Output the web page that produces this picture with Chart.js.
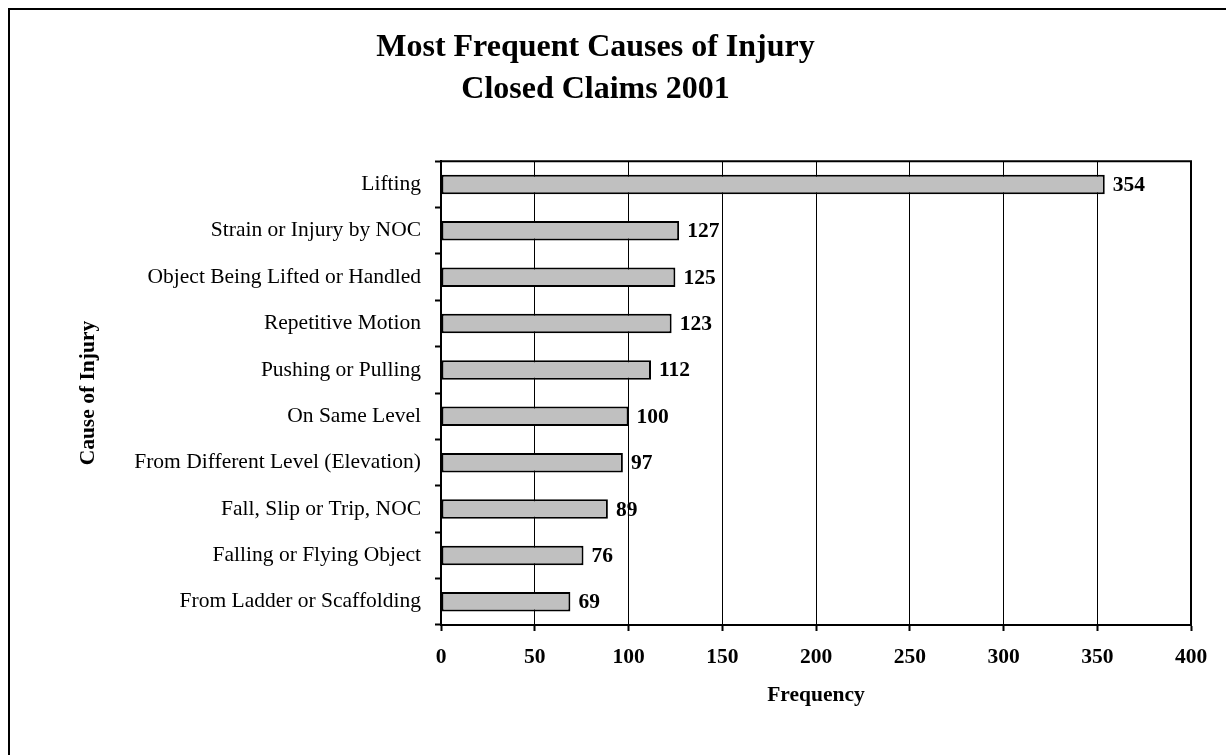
<!DOCTYPE html>
<html>
<head>
<meta charset="utf-8">
<script src="https://cdn.jsdelivr.net/npm/chart.js@4"></script>
<style>
  html, body { margin: 0; padding: 0; background: #fff; overflow: hidden; }
  #wrap { width: 1226px; height: 755px; position: relative; }
</style>
</head>
<body>
<div id="wrap"><canvas id="chart" width="1226" height="755"></canvas></div>
<script>
// Injury causes, closed claims 2001
const causes = [
  'Lifting',
  'Strain or Injury by NOC',
  'Object Being Lifted or Handled',
  'Repetitive Motion',
  'Pushing or Pulling',
  'On Same Level',
  'From Different Level (Elevation)',
  'Fall, Slip or Trip, NOC',
  'Falling or Flying Object',
  'From Ladder or Scaffolding'
];
const frequency = [354, 127, 125, 123, 112, 100, 97, 89, 76, 69];
const titleLines = ['Most Frequent Causes of Injury', 'Closed Claims 2001'];
const xTitle = 'Frequency';
const yTitle = 'Cause of Injury';

const SERIF = '"Liberation Serif", "Times New Roman", Times, serif';

// White page with an outer frame
const framePlugin = {
  id: 'frame',
  beforeDraw(chart) {
    const ctx = chart.ctx;
    ctx.save();
    ctx.fillStyle = '#ffffff';
    ctx.fillRect(0, 0, chart.width, chart.height);
    ctx.strokeStyle = '#000';
    ctx.lineWidth = 2;
    ctx.strokeRect(9, 9, chart.width + 40, chart.height + 40);
    ctx.restore();
  }
};

// Top and right edges of the plot area
const plotBoxPlugin = {
  id: 'plotBox',
  afterDraw(chart) {
    const {ctx, chartArea: a} = chart;
    ctx.save();
    ctx.strokeStyle = '#000';
    ctx.lineWidth = 2;
    ctx.beginPath();
    ctx.moveTo(a.left, a.top);
    ctx.lineTo(a.right, a.top);
    ctx.lineTo(a.right, a.bottom);
    ctx.stroke();
    ctx.restore();
  }
};

// Value labels at the end of each bar
const valueLabelPlugin = {
  id: 'valueLabels',
  afterDatasetsDraw(chart) {
    const ctx = chart.ctx;
    const meta = chart.getDatasetMeta(0);
    const data = chart.data.datasets[0].data;
    ctx.save();
    ctx.font = 'bold 21.5px ' + SERIF;
    ctx.fillStyle = '#000';
    ctx.textAlign = 'left';
    ctx.textBaseline = 'middle';
    meta.data.forEach((bar, i) => {
      ctx.fillText(String(data[i]), bar.x + 8, bar.y + 1);
    });
    ctx.restore();
  }
};

new Chart(document.getElementById('chart'), {
  type: 'bar',
  data: {
    labels: causes,
    datasets: [{
      data: frequency,
      backgroundColor: '#c0c0c0',
      borderColor: '#000',
      borderWidth: 2,
      borderSkipped: false,
      barPercentage: 0.42,
      categoryPercentage: 1.0
    }]
  },
  options: {
    indexAxis: 'y',
    responsive: false,
    animation: false,
    layout: { padding: { left: 0, right: 35, top: 0, bottom: 0 } },
    plugins: {
      legend: { display: false },
      tooltip: { enabled: false },
      title: {
        display: true,
        text: titleLines,
        color: '#000',
        font: { family: SERIF, size: 32, weight: 'bold', lineHeight: 1.3 },
        padding: { top: 27, bottom: 51 }
      }
    },
    scales: {
      x: {
        min: 0,
        max: 400,
        ticks: {
          stepSize: 50,
          color: '#000',
          font: { family: SERIF, size: 21.5, weight: 'bold' },
          padding: 14,
          maxRotation: 0
        },
        grid: {
          color: '#000',
          lineWidth: 1,
          drawTicks: true,
          tickLength: 6,
          tickColor: '#000',
          tickWidth: 2
        },
        border: { display: true, color: '#000', width: 2 },
        title: {
          display: true,
          text: xTitle,
          color: '#000',
          font: { family: SERIF, size: 21.5, weight: 'bold' },
          padding: { top: 0, bottom: 47 }
        },
        afterFit(scale) { scale.height = 755 - 625; }
      },
      y: {
        ticks: {
          color: '#000',
          font: { family: SERIF, size: 21.5 },
          padding: 14,
          autoSkip: false
        },
        grid: {
          drawOnChartArea: false,
          drawTicks: true,
          tickLength: 6,
          tickColor: '#000',
          tickWidth: 2,
          offset: true
        },
        border: { display: true, color: '#000', width: 2 },
        title: {
          display: true,
          text: yTitle,
          color: '#000',
          font: { family: SERIF, size: 21.5, weight: 'bold' },
          padding: { top: 76, bottom: 0 }
        },
        afterFit(scale) { scale.width = 441; }
      }
    }
  },
  plugins: [framePlugin, plotBoxPlugin, valueLabelPlugin]
});
</script>
</body>
</html>
